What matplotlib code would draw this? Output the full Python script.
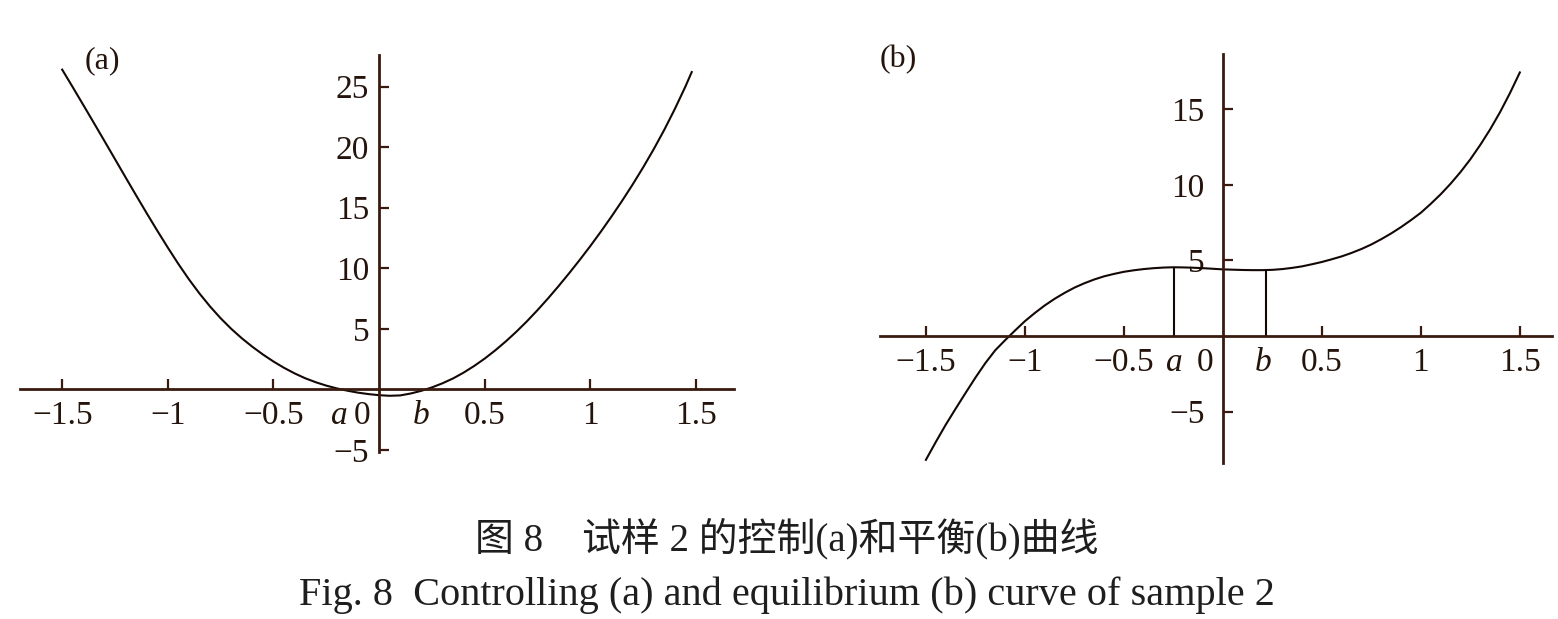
import matplotlib.pyplot as plt
import numpy as np

plt.rcParams['font.family'] = ['Liberation Serif', 'Noto Sans CJK SC']

# (a) controlling curve
xa = [-1.5, -1.45, -1.4, -1.35, -1.3, -1.25, -1.2, -1.15, -1.1, -1.05, -1.0, -0.95, -0.9, -0.85,
      -0.8, -0.75, -0.7, -0.65, -0.6, -0.55, -0.5, -0.45, -0.4, -0.35, -0.3, -0.25, -0.2, -0.15,
      -0.1, -0.05, 0.0, 0.05, 0.1, 0.15, 0.2, 0.25, 0.3, 0.35, 0.4, 0.45, 0.5, 0.55, 0.6, 0.65,
      0.7, 0.75, 0.8, 0.85, 0.9, 0.95, 1.0, 1.05, 1.1, 1.15, 1.2, 1.25, 1.3, 1.35, 1.4, 1.45, 1.48]
ya = [26.4, 24.95, 23.48, 22.0, 20.51, 19.01, 17.51, 16.02, 14.55, 13.11, 11.71, 10.36, 9.09, 7.92,
      6.85, 5.88, 5.01, 4.23, 3.53, 2.89, 2.31, 1.79, 1.33, 0.93, 0.6, 0.32, 0.09, -0.1,
      -0.26, -0.38, -0.47, -0.52, -0.49, -0.33, -0.11, 0.17, 0.51, 0.91, 1.39, 1.94, 2.55, 3.23, 3.97, 4.77,
      5.63, 6.55, 7.52, 8.54, 9.6, 10.7, 11.84, 13.03, 14.27, 15.56, 16.91, 18.33, 19.83, 21.43, 23.15, 25.0, 26.2]

# (b) equilibrium curve
xb = [-1.5, -1.45, -1.4, -1.35, -1.3, -1.25, -1.2, -1.15, -1.1, -1.05, -1.0, -0.95, -0.9, -0.85,
      -0.8, -0.75, -0.7, -0.65, -0.6, -0.55, -0.5, -0.45, -0.4, -0.35, -0.3, -0.25, -0.2, -0.15,
      -0.1, -0.05, 0.0, 0.05, 0.1, 0.15, 0.2, 0.25, 0.3, 0.35, 0.4, 0.45, 0.5, 0.55, 0.6, 0.65,
      0.7, 0.75, 0.8, 0.85, 0.9, 0.95, 1.0, 1.05, 1.1, 1.15, 1.2, 1.25, 1.3, 1.35, 1.4, 1.45, 1.5]
yb = [-8.2, -7.02, -5.88, -4.82, -3.78, -2.76, -1.8, -0.95, -0.28, 0.36, 0.98, 1.52, 2.02, 2.46,
      2.85, 3.2, 3.49, 3.74, 3.95, 4.11, 4.25, 4.35, 4.43, 4.49, 4.53, 4.55, 4.54, 4.52,
      4.49, 4.45, 4.41, 4.39, 4.37, 4.36, 4.36, 4.38, 4.43, 4.51, 4.61, 4.75, 4.9, 5.08, 5.27, 5.5,
      5.76, 6.06, 6.41, 6.79, 7.21, 7.67, 8.16, 8.75, 9.38, 10.08, 10.85, 11.7, 12.65, 13.68, 14.82, 16.08, 17.45]

# marked points a, b
roots_a = [-0.19, 0.2]
eq_x = [-0.247, 0.217]
eq_y = [4.55, 4.37]

xticks = [-1.5, -1, -0.5, 0.5, 1, 1.5]
xticklabels = ['\u22121.5', '\u22121', '\u22120.5', '0.5', '1', '1.5']
yticks_a = [-5, 5, 10, 15, 20, 25]
yticks_b = [-5, 5, 10, 15]

axis_col = '#3a1a0e'
line_col = '#140805'
txt_col = '#24140c'
fs = 24

fig = plt.figure(figsize=(15.58, 6.19), dpi=100)
axA = fig.add_axes([0.0128, 0.269, 0.4583, 0.642])
axB = fig.add_axes([0.5648, 0.252, 0.4313, 0.661])


def setup(ax, xlim, ylim, yticks, ypad):
    ax.set_xlim(*xlim)
    ax.set_ylim(*ylim)
    ax.patch.set_alpha(0)
    for s in ['top', 'right']:
        ax.spines[s].set_visible(False)
    for s in ['left', 'bottom']:
        ax.spines[s].set_position(('data', 0))
        ax.spines[s].set_color(axis_col)
        ax.spines[s].set_linewidth(2.0)
    ax.set_xticks(xticks)
    ax.set_xticklabels(xticklabels)
    ax.set_yticks(yticks)
    ax.set_yticklabels(['\u2212%d' % -t if t < 0 else '%d' % t for t in yticks])
    ax.tick_params(direction='in', length=7, width=1.6, color=axis_col,
                   labelcolor=txt_col, labelsize=fs)
    ax.tick_params(axis='x', pad=8)
    ax.tick_params(axis='y', pad=ypad)


def under_label(ax, x, s, italic=False):
    ax.annotate(s, xy=(x, 0), xytext=(0, -8), textcoords='offset points',
                ha='center', va='top', fontsize=fs, color=txt_col,
                style='italic' if italic else 'normal')


setup(axA, (-1.70, 1.68), (-5.2, 27.6), yticks_a, 7)
axA.plot(xa, ya, color=line_col, lw=1.5)
under_label(axA, roots_a[0], 'a', True)
under_label(axA, -0.08, '0')
under_label(axA, roots_a[1], 'b', True)
axA.text(0.115, 0.985, '(a)', transform=axA.transAxes, fontsize=23, color=txt_col,
         ha='center', va='center')

setup(axB, (-1.732, 1.662), (-8.41, 18.68), yticks_b, 13)
axB.plot(xb, yb, color=line_col, lw=1.5)
axB.vlines(eq_x, 0, eq_y, color=line_col, lw=1.5)
under_label(axB, eq_x[0], 'a', True)
under_label(axB, -0.09, '0')
under_label(axB, 0.204, 'b', True)
axB.text(0.027, 0.985, '(b)', transform=axB.transAxes, fontsize=23, color=txt_col,
         ha='center', va='center')

fig.text(0.505, 1 - 539 / 619, '图 8\u3000试样 2 的控制(a)和平衡(b)曲线', ha='center', va='center',
         fontsize=28, color='#1e1e1e')
fig.text(0.505, 1 - 595 / 619, 'Fig. 8  Controlling (a) and equilibrium (b) curve of sample 2',
         ha='center', va='center', fontsize=29, color='#1e1e1e')

fig.savefig('out.png', dpi=100)
